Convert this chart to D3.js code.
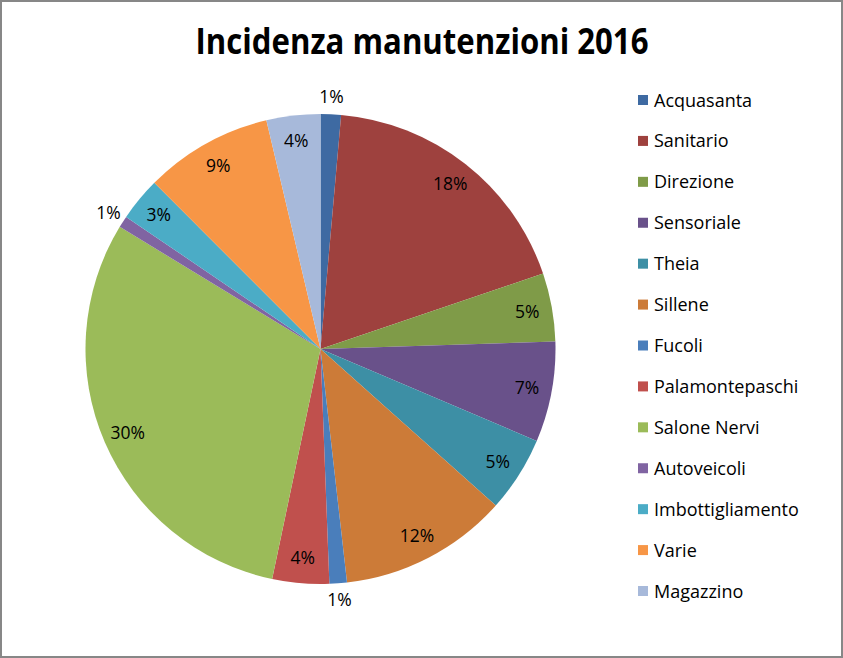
<!DOCTYPE html>
<html>
<head>
<meta charset="utf-8">
<script src="https://cdn.jsdelivr.net/npm/d3@7"></script>
<style>
  html, body { margin: 0; padding: 0; background: #fff; }
  svg { display: block; font-family: "Open Sans", "Noto Sans", sans-serif; }
</style>
</head>
<body>
<div id="chart"></div>
<script>
// Data (share of total, percent)
const categories = ["Acquasanta", "Sanitario", "Direzione", "Sensoriale", "Theia", "Sillene",
  "Fucoli", "Palamontepaschi", "Salone Nervi", "Autoveicoli", "Imbottigliamento", "Varie", "Magazzino"];
const values = [1.4, 18.4, 4.7, 6.9, 5.2, 11.6, 1.2, 3.9, 30.4, 0.8, 3.0, 8.8, 3.7];
const colors = ["#3E6AA2", "#9E413E", "#7F9B48", "#69518A", "#3D8FA5", "#CC7B38",
  "#4A7EBB", "#C0504D", "#9BBB59", "#8064A2", "#4BACC6", "#F79646", "#A7B9DA"];
const title = "Incidenza manutenzioni 2016";

const width = 843, height = 658;
const cx = 320.5, cy = 349, radius = 235;

const svg = d3.select("#chart").append("svg")
  .attr("width", width)
  .attr("height", height);

// Outer frame
svg.append("rect")
  .attr("x", 1).attr("y", 1)
  .attr("width", width - 2).attr("height", height - 2)
  .attr("fill", "#fff")
  .attr("stroke", "#878787")
  .attr("stroke-width", 2);

// Title
svg.append("text")
  .attr("x", 422).attr("y", 54)
  .attr("text-anchor", "middle")
  .attr("font-size", 35)
  .attr("font-weight", "bold")
  .attr("textLength", 453)
  .attr("lengthAdjust", "spacingAndGlyphs")
  .attr("fill", "#000")
  .text(title);

const data = categories.map((c, i) => ({ name: c, value: values[i], color: colors[i] }));
const total = d3.sum(values);

const pie = d3.pie().sort(null).value(d => d.value);
const arcs = pie(data);

const arc = d3.arc().innerRadius(0).outerRadius(radius);
const labelIn = d3.arc().innerRadius(210).outerRadius(210);
const labelOut = d3.arc().innerRadius(252).outerRadius(252);

const g = svg.append("g").attr("transform", `translate(${cx},${cy})`);

g.selectAll("path.slice")
  .data(arcs)
  .join("path")
  .attr("class", "slice")
  .attr("d", arc)
  .attr("fill", d => d.data.color);

// Data labels: small slices get their label outside the pie
g.selectAll("text.dl")
  .data(arcs)
  .join("text")
  .attr("class", "dl")
  .attr("transform", d => {
    const p = (d.data.value / total < 0.015 ? labelOut : labelIn).centroid(d);
    return `translate(${p[0]},${p[1]})`;
  })
  .attr("text-anchor", "middle")
  .attr("dy", "0.35em")
  .attr("font-size", 17.5)
  .attr("fill", "#000")
  .text(d => Math.round(d.data.value / total * 100) + "%");

// Legend
const legendY = d3.scalePoint().domain(categories).range([100, 591]);

const legend = svg.append("g");
const item = legend.selectAll("g.item")
  .data(data)
  .join("g")
  .attr("class", "item")
  .attr("transform", d => `translate(638,${legendY(d.name)})`);

item.append("rect")
  .attr("x", 0).attr("y", -5)
  .attr("width", 10).attr("height", 10)
  .attr("fill", d => d.color);

item.append("text")
  .attr("x", 16).attr("y", 6.5)
  .attr("font-size", 18)
  .attr("fill", "#000")
  .text(d => d.name);
</script>
</body>
</html>
